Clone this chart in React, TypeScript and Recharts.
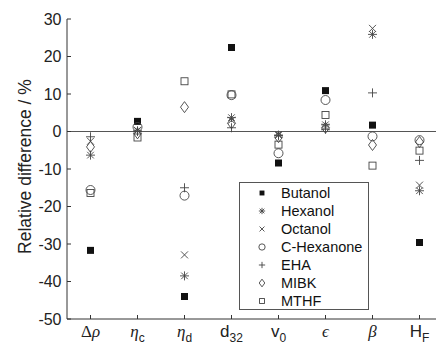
import React from 'react';
import {
  ScatterChart,
  Scatter,
  XAxis,
  YAxis,
  ReferenceLine,
  Legend,
} from 'recharts';

// x tick labels: upright part, italic (greek) part, subscript
const TICK_MAIN = ['Δ', '', '', 'd', 'v', '', '', 'H'];
const TICK_ITALIC = ['ρ', 'η', 'η', '', '', 'ϵ', 'β', ''];
const TICK_SUB = ['', 'c', 'd', '32', '0', '', '', 'F'];
const X_TICKS = [1, 2, 3, 4, 5, 6, 7, 8];
const Y_TICKS = [-50, -40, -30, -20, -10, 0, 10, 20, 30];

// relative difference per parameter (order of TICK_* above)
const butanol = [-31.7, 2.7, -44.0, 22.4, -8.4, 10.9, 1.7, -29.6];
const hexanol = [-6.3, 0.2, -38.5, 3.7, -1.0, 1.8, 25.9, -15.8];
const octanol = [-2.6, 0.3, -32.9, 3.0, -0.8, 1.2, 27.5, -14.3];
const cHexanone = [-15.6, 1.2, -17.1, 9.7, -5.8, 8.4, -1.3, -2.3];
const eha = [-1.4, 0.0, -15.0, 1.0, -1.0, 0.6, 10.3, -7.7];
const mibk = [-4.1, -0.5, 6.5, 2.2, -1.5, 1.0, -3.6, -2.8];
const mthf = [-16.4, -1.6, 13.4, 9.9, -3.5, 4.4, -9.1, -5.1];

const FONT = '"Liberation Sans", Arial, sans-serif';
const SERIF = '"Liberation Serif", "DejaVu Serif", serif';
const INK = '#444';

type P = { cx?: number; cy?: number; s?: number };

const FilledSquare = ({ cx = 0, cy = 0, s = 1 }: P) => (
  <rect x={cx - 3.5 * s} y={cy - 3.5 * s} width={7 * s} height={7 * s} fill="#111" />
);
const Asterisk = ({ cx = 0, cy = 0, s = 1 }: P) => (
  <g stroke={INK} strokeWidth={0.9}>
    <line x1={cx - 4.5 * s} y1={cy} x2={cx + 4.5 * s} y2={cy} />
    <line x1={cx} y1={cy - 4.5 * s} x2={cx} y2={cy + 4.5 * s} />
    <line x1={cx - 3.3 * s} y1={cy - 3.3 * s} x2={cx + 3.3 * s} y2={cy + 3.3 * s} />
    <line x1={cx - 3.3 * s} y1={cy + 3.3 * s} x2={cx + 3.3 * s} y2={cy - 3.3 * s} />
  </g>
);
const Cross = ({ cx = 0, cy = 0, s = 1 }: P) => (
  <g stroke={INK} strokeWidth={0.9}>
    <line x1={cx - 3.5 * s} y1={cy - 3.5 * s} x2={cx + 3.5 * s} y2={cy + 3.5 * s} />
    <line x1={cx - 3.5 * s} y1={cy + 3.5 * s} x2={cx + 3.5 * s} y2={cy - 3.5 * s} />
  </g>
);
const OpenCircle = ({ cx = 0, cy = 0, s = 1 }: P) => (
  <circle cx={cx} cy={cy} r={4.5 * s} fill="none" stroke={INK} strokeWidth={0.9} />
);
const Plus = ({ cx = 0, cy = 0, s = 1 }: P) => (
  <g stroke={INK} strokeWidth={0.9}>
    <line x1={cx - 4.5 * s} y1={cy} x2={cx + 4.5 * s} y2={cy} />
    <line x1={cx} y1={cy - 4.5 * s} x2={cx} y2={cy + 4.5 * s} />
  </g>
);
const Diamond = ({ cx = 0, cy = 0, s = 1 }: P) => (
  <polygon
    points={`${cx},${cy - 5.5 * s} ${cx + 4 * s},${cy} ${cx},${cy + 5.5 * s} ${cx - 4 * s},${cy}`}
    fill="none"
    stroke={INK}
    strokeWidth={0.9}
  />
);
const OpenSquare = ({ cx = 0, cy = 0, s = 1 }: P) => (
  <rect
    x={cx - 3.5 * s}
    y={cy - 3.5 * s}
    width={7 * s}
    height={7 * s}
    fill="none"
    stroke={INK}
    strokeWidth={0.9}
  />
);

const SERIES = [
  { name: 'Butanol', values: butanol, Shape: FilledSquare },
  { name: 'Hexanol', values: hexanol, Shape: Asterisk },
  { name: 'Octanol', values: octanol, Shape: Cross },
  { name: 'C-Hexanone', values: cHexanone, Shape: OpenCircle },
  { name: 'EHA', values: eha, Shape: Plus },
  { name: 'MIBK', values: mibk, Shape: Diamond },
  { name: 'MTHF', values: mthf, Shape: OpenSquare },
];

const XTick = (props: any) => {
  const { x, y, payload } = props;
  const i = payload.value - 1;
  return (
    <text x={x} y={y} dy={14} textAnchor="middle" fontSize={17} fill="#222" fontFamily={FONT}>
      {TICK_MAIN[i] && (
        <tspan fontFamily={i === 0 ? SERIF : FONT}>{TICK_MAIN[i]}</tspan>
      )}
      {TICK_ITALIC[i] && (
        <tspan fontStyle="italic" fontFamily={SERIF}>
          {TICK_ITALIC[i]}
        </tspan>
      )}
      {TICK_SUB[i] && (
        <tspan fontSize={12} dy={5}>
          {TICK_SUB[i]}
        </tspan>
      )}
    </text>
  );
};

const LegendBox = () => (
  <div
    style={{
      boxSizing: 'border-box',
      width: '100%',
      height: '100%',
      border: '1px solid #555',
      background: '#fff',
      paddingTop: 1,
      fontFamily: FONT,
      fontSize: 14.5,
      color: '#111',
    }}
  >
    {SERIES.map(({ name, Shape }) => (
      <div key={name} style={{ height: 18.05, display: 'flex', alignItems: 'center' }}>
        <svg width={16} height={16} style={{ marginLeft: 14, marginRight: 11 }}>
          <Shape cx={8} cy={8} s={0.7} />
        </svg>
        <span>{name}</span>
      </div>
    ))}
  </div>
);

export default function App() {
  return (
    <div
      style={{
        position: 'fixed',
        left: 0,
        top: 0,
        width: 436,
        height: 343,
        overflow: 'hidden',
        background: '#fff',
      }}
    >
      <ScatterChart width={452} height={343} margin={{ top: 19, right: 9, bottom: 0, left: 0 }}>
        <XAxis
          type="number"
          dataKey="x"
          domain={[0.5, 8.5]}
          ticks={X_TICKS}
          allowDataOverflow
          height={24}
          stroke="#333"
          tickSize={-4}
          tickMargin={8}
          tick={<XTick />}
        />
        <XAxis
          xAxisId="top"
          orientation="top"
          type="number"
          domain={[0.5, 8.5]}
          ticks={X_TICKS}
          allowDataOverflow
          height={0}
          stroke="#333"
          tickSize={-4}
          tick={false}
        />
        <YAxis
          type="number"
          dataKey="y"
          domain={[-50, 30]}
          ticks={Y_TICKS}
          allowDataOverflow
          width={67}
          stroke="#333"
          tickSize={-4}
          tickMargin={9.5}
          tick={{ fontSize: 16, fill: '#222', fontFamily: FONT }}
          label={{
            value: 'Relative difference / %',
            angle: -90,
            position: 'center',
            dx: -8.5,
            dy: -2.5,
            style: { fontSize: 17.5, fill: '#222', fontFamily: FONT },
          }}
        />
        <ReferenceLine y={0} stroke="#555" strokeWidth={1} />
        {SERIES.map(({ name, values, Shape }) => (
          <Scatter
            key={name}
            name={name}
            data={values.map((v, i) => ({ x: X_TICKS[i], y: v }))}
            shape={(p: any) => <Shape cx={p.cx} cy={p.cy} />}
            isAnimationActive={false}
          />
        ))}
        <Legend
          layout="horizontal"
          verticalAlign="middle"
          align="center"
          content={<LegendBox />}
          wrapperStyle={{ left: 239, top: 182, width: 130, height: 128 }}
        />
      </ScatterChart>
    </div>
  );
}
